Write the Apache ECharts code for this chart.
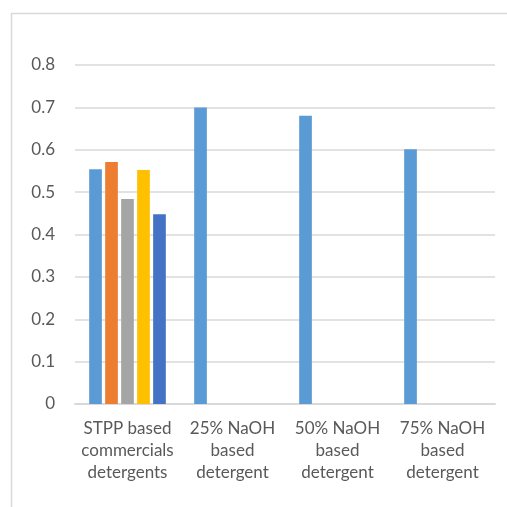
<!DOCTYPE html>
<html><head><meta charset="utf-8">
<script src="https://cdn.jsdelivr.net/npm/echarts@6/dist/echarts.min.js"></script>
<style>html,body{margin:0;padding:0;background:#fff}#c{width:507px;height:507px}</style>
</head><body><div id="c"></div>
<script>
const categories = ["STPP based\ncommercials\ndetergents", "25% NaOH\nbased\ndetergent", "50% NaOH\nbased\ndetergent", "75% NaOH\nbased\ndetergent"];
const s1 = [0.554, 0.700, 0.680, 0.601];
const s2 = [0.571, null, null, null];
const s3 = [0.484, null, null, null];
const s4 = [0.552, null, null, null];
const s5 = [0.448, null, null, null];
const colors = ["#5b9bd5", "#ed7d31", "#a5a5a5", "#ffc000", "#4472c4"];
const yTicks = [0, 0.1, 0.2, 0.3, 0.4, 0.5, 0.6, 0.7, 0.8];

const font = "Lato";
const chart = echarts.init(document.getElementById('c'));
const mk = (d, i) => ({type: 'bar', data: d, itemStyle: {color: colors[i]}, barGap: '26%', barCategoryGap: '27%'});
chart.setOption({
  animation: false,
  graphic: [{type: 'rect', shape: {x: 11.5, y: 13.5, width: 600, height: 600}, style: {fill: 'none', stroke: '#d9d9d9', lineWidth: 1.5}}],
  grid: {left: 75, right: 12, top: 65, bottom: 103},
  xAxis: {type: 'category', data: categories,
    axisLine: {lineStyle: {color: '#d9d9d9', width: 2}}, axisTick: {show: false},
    axisLabel: {color: '#595959', fontFamily: font, fontSize: 17, lineHeight: 22, margin: 14, interval: 0}},
  yAxis: {type: 'value', min: 0, max: 0.8, interval: 0.1,
    axisLine: {show: false}, axisTick: {show: false},
    splitLine: {lineStyle: {color: '#d9d9d9', width: 1.5}},
    axisLabel: {color: '#595959', fontFamily: font, fontSize: 17, margin: 20,
      formatter: v => { const t = yTicks.find(x => Math.abs(x - v) < 1e-9); return t === 0 ? '0' : String(+t.toFixed(1)); }}},
  series: [mk(s1,0), mk(s2,1), mk(s3,2), mk(s4,3), mk(s5,4)]
});
</script></body></html>
